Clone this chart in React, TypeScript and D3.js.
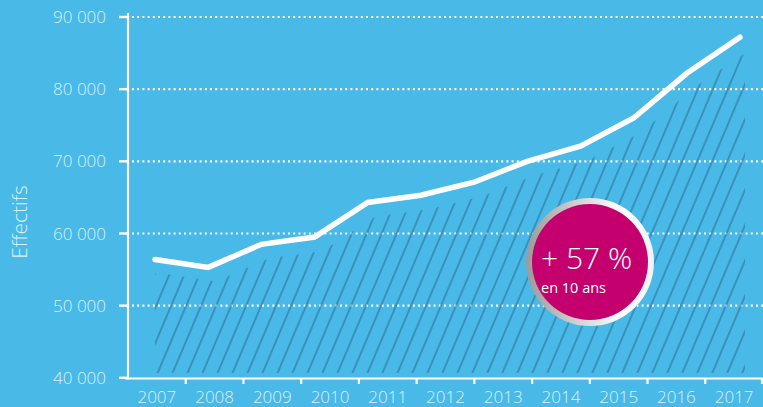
import React from "react";
import * as d3 from "d3";

const years = ["2007", "2008", "2009", "2010", "2011", "2012", "2013", "2014", "2015", "2016", "2017"];
const yTicks = [40000, 50000, 60000, 70000, 80000, 90000];
const effectifs = [56400, 55300, 58500, 59500, 64300, 65300, 67100, 70000, 72100, 76000, 82200, 87200];
const pointIndex = effectifs.map((_, i) => i);
const badgeMain = "+ 57 %";
const badgeSub = "en 10 ans";
const axisTitle = "Effectifs";

const W = 763;
const H = 407;
const BG = "#49b9e8";
const LABEL = "#d9f2fc";
const FONT = "'Open Sans', 'DejaVu Sans', sans-serif";

export default function App() {
  const y = d3.scaleLinear().domain([40000, 90000]).range([377.8, 17]);
  const xBand = d3.scaleBand<string>().domain(years).range([128, 763]).paddingInner(0).paddingOuter(0);
  const xLine = d3.scaleLinear().domain([0, effectifs.length - 1]).range([155, 740]);

  const lineGen = d3
    .line<number>()
    .x((i) => xLine(i))
    .y((i) => y(effectifs[i]));

  const dx = 8;
  const dy = 14;
  const ext = [-1, ...pointIndex, effectifs.length];
  const clampI = (i: number) => Math.min(Math.max(i, 0), effectifs.length - 1);
  const areaGen = d3
    .area<number>()
    .x((i) => xLine(clampI(i)) + dx + (i < 0 ? -40 : i >= effectifs.length ? 40 : 0))
    .y0(() => 373)
    .y1((i) => y(effectifs[clampI(i)]) + dy);

  const cx = 590;
  const cy = 262;

  return (
    <div>
      <style>{"body{margin:0;}"}</style>
      <svg width={W} height={H} style={{ display: "block" }}>
        <defs>
          <pattern id="hatch" width={13.8} height={20} patternUnits="userSpaceOnUse" patternTransform="rotate(23)">
            <line x1={1} y1={0} x2={1} y2={20} stroke="#2a6890" strokeWidth={1} />
          </pattern>
          <clipPath id="hclip">
            <rect x={155} y={0} width={590} height={H} />
          </clipPath>
          <linearGradient id="ring" x1="0" y1="0.5" x2="1" y2="0.5">
            <stop offset="0" stopColor="#9a9a9a" />
            <stop offset="0.45" stopColor="#d8d8d8" />
            <stop offset="0.75" stopColor="#ffffff" />
            <stop offset="1" stopColor="#f2f2f2" />
          </linearGradient>
        </defs>
        <rect x={0} y={0} width={W} height={H} fill={BG} />

        {yTicks
          .filter((t) => t > 40000)
          .map((t) => (
            <line key={"g" + t} x1={132} x2={W} y1={y(t)} y2={y(t)} stroke="#ffffff" strokeWidth={2.2} strokeDasharray="2 3.2" />
          ))}

        <g clipPath="url(#hclip)">
          <path d={areaGen(ext) || ""} fill="url(#hatch)" />
        </g>

        <path d={lineGen(pointIndex) || ""} fill="none" stroke="#ffffff" strokeWidth={5.5} strokeLinecap="round" strokeLinejoin="miter" />

        <line x1={128} x2={128} y1={13} y2={379.5} stroke="#ffffff" strokeWidth={2.2} />
        {yTicks.map((t) => (
          <g key={"y" + t}>
            <line x1={119} x2={128} y1={y(t)} y2={y(t)} stroke="#ffffff" strokeWidth={2.4} />
            <text x={106} y={y(t)} dy="0.36em" textAnchor="end" fill={LABEL} fontFamily={FONT} fontWeight={300} fontSize={17}>
              {d3.format(",")(t).replace(/,/g, " ")}
            </text>
          </g>
        ))}

        <line x1={125} x2={W} y1={378.5} y2={378.5} stroke="#ffffff" strokeWidth={2.2} />
        {years.map((yr, i) => {
          const x0 = xBand(yr) as number;
          return (
            <g key={yr}>
              {i > 0 && <line x1={x0} x2={x0} y1={378} y2={384} stroke="#ffffff" strokeWidth={2.2} />}
              <text x={x0 + xBand.bandwidth() / 2} y={403} textAnchor="middle" fill={LABEL} fontFamily={FONT} fontWeight={300} fontSize={17}>
                {yr}
              </text>
            </g>
          );
        })}
        <line x1={762} x2={762} y1={378} y2={384} stroke="#ffffff" strokeWidth={2.2} />

        <text transform={`translate(27,222) rotate(-90)`} textAnchor="middle" fill={LABEL} fontFamily={FONT} fontWeight={300} fontSize={21}>
          {axisTitle}
        </text>

        <circle cx={cx} cy={cy} r={64} fill="url(#ring)" />
        <circle cx={cx} cy={cy} r={58} fill="#c3006e" />
        <text x={541} y={268.5} fill="#ffffff" fontFamily={FONT} fontWeight={300} fontSize={30}>
          {badgeMain}
        </text>
        <text x={541} y={293} fill="#ffffff" fontFamily={FONT} fontWeight={400} fontSize={14.5}>
          {badgeSub}
        </text>
      </svg>
    </div>
  );
}
